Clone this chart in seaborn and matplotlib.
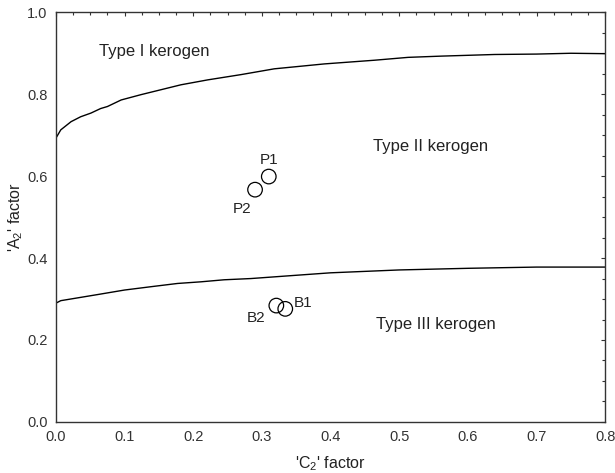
import matplotlib
matplotlib.use("Agg")
import matplotlib.pyplot as plt
from matplotlib.ticker import MultipleLocator, FormatStrFormatter
import seaborn as sns
import pandas as pd

# Boundary between Type I and Type II kerogen
upper_x = [0.0, 0.007, 0.022, 0.036, 0.051, 0.065, 0.075, 0.095, 0.124, 0.153, 0.182,
           0.221, 0.27, 0.318, 0.391, 0.464, 0.513, 0.561, 0.6, 0.639, 0.7, 0.75, 0.8]
upper_y = [0.693, 0.713, 0.733, 0.745, 0.754, 0.765, 0.770, 0.786, 0.799, 0.811, 0.823,
           0.835, 0.848, 0.862, 0.874, 0.883, 0.890, 0.893, 0.895, 0.897, 0.898, 0.900, 0.899]

# Boundary between Type II and Type III kerogen
lower_x = [0.0, 0.007, 0.061, 0.1, 0.138, 0.177, 0.211, 0.245, 0.284, 0.35, 0.4,
           0.5, 0.6, 0.7, 0.8]
lower_y = [0.290, 0.296, 0.311, 0.322, 0.330, 0.338, 0.342, 0.347, 0.350, 0.358, 0.364,
           0.371, 0.375, 0.378, 0.378]

# Samples
sample_names = ["P1", "P2", "B1", "B2"]
sample_c2 = [0.31, 0.29, 0.334, 0.321]
sample_a2 = [0.599, 0.567, 0.276, 0.284]

region_labels = ["Type I kerogen", "Type II kerogen", "Type III kerogen"]

sns.set_theme(style="white")
plt.rcParams["font.family"] = ["Liberation Sans", "DejaVu Sans"]
plt.rcParams["mathtext.fontset"] = "custom"
plt.rcParams["mathtext.rm"] = "Liberation Sans"
plt.rcParams["mathtext.it"] = "Liberation Sans"
plt.rcParams["mathtext.default"] = "regular"

fig = plt.figure(figsize=(6.15, 4.73), dpi=100)
ax = fig.add_axes([0.091, 0.108, 0.893, 0.866])

upper = pd.DataFrame({"x": upper_x, "y": upper_y})
lower = pd.DataFrame({"x": lower_x, "y": lower_y})
samples = pd.DataFrame({"c2": sample_c2, "a2": sample_a2, "name": sample_names})

sns.lineplot(data=upper, x="x", y="y", ax=ax, color="black", lw=1.0, sort=False)
sns.lineplot(data=lower, x="x", y="y", ax=ax, color="black", lw=1.0, sort=False)
sns.scatterplot(data=samples, x="c2", y="a2", ax=ax, s=110, marker="o",
                facecolor="none", edgecolor="black", linewidth=0.9, zorder=3)

# Sample labels
offsets = {"P1": (0.001, 0.04, "center"), "P2": (-0.019, -0.047, "center"),
           "B1": (0.012, 0.015, "left"), "B2": (-0.03, -0.03, "center")}
for n, cx, cy in zip(sample_names, sample_c2, sample_a2):
    dx, dy, ha = offsets[n]
    ax.text(cx + dx, cy + dy, n, ha=ha, va="center", fontsize=11, color="#222222")

region_pos = [(0.143, 0.905), (0.545, 0.672), (0.554, 0.238)]
for lab, (px, py) in zip(region_labels, region_pos):
    ax.text(px, py, lab, ha="center", va="center", fontsize=12, color="#222222")

ax.set_xlim(0, 0.8)
ax.set_ylim(0, 1.0)
ax.xaxis.set_major_locator(MultipleLocator(0.1))
ax.xaxis.set_minor_locator(MultipleLocator(0.025))
ax.yaxis.set_major_locator(MultipleLocator(0.2))
ax.yaxis.set_minor_locator(MultipleLocator(0.05))
ax.xaxis.set_major_formatter(FormatStrFormatter("%.1f"))
ax.yaxis.set_major_formatter(FormatStrFormatter("%.1f"))
ax.tick_params(which="both", direction="in", top=True, right=True,
               color="#333333", width=0.8)
ax.tick_params(which="major", length=3, labelsize=10.5, labelcolor="#333333", pad=6)
ax.tick_params(which="minor", length=2)

for sp in ax.spines.values():
    sp.set_color("#333333")
    sp.set_linewidth(1.0)

ax.set_xlabel("'C$_2$' factor", fontsize=11.5, color="#222222", labelpad=7)
ax.set_ylabel("'A$_2$' factor", fontsize=11.5, color="#222222")
ax.yaxis.set_label_coords(-0.057, 0.5)

fig.savefig("out.png", dpi=100)
